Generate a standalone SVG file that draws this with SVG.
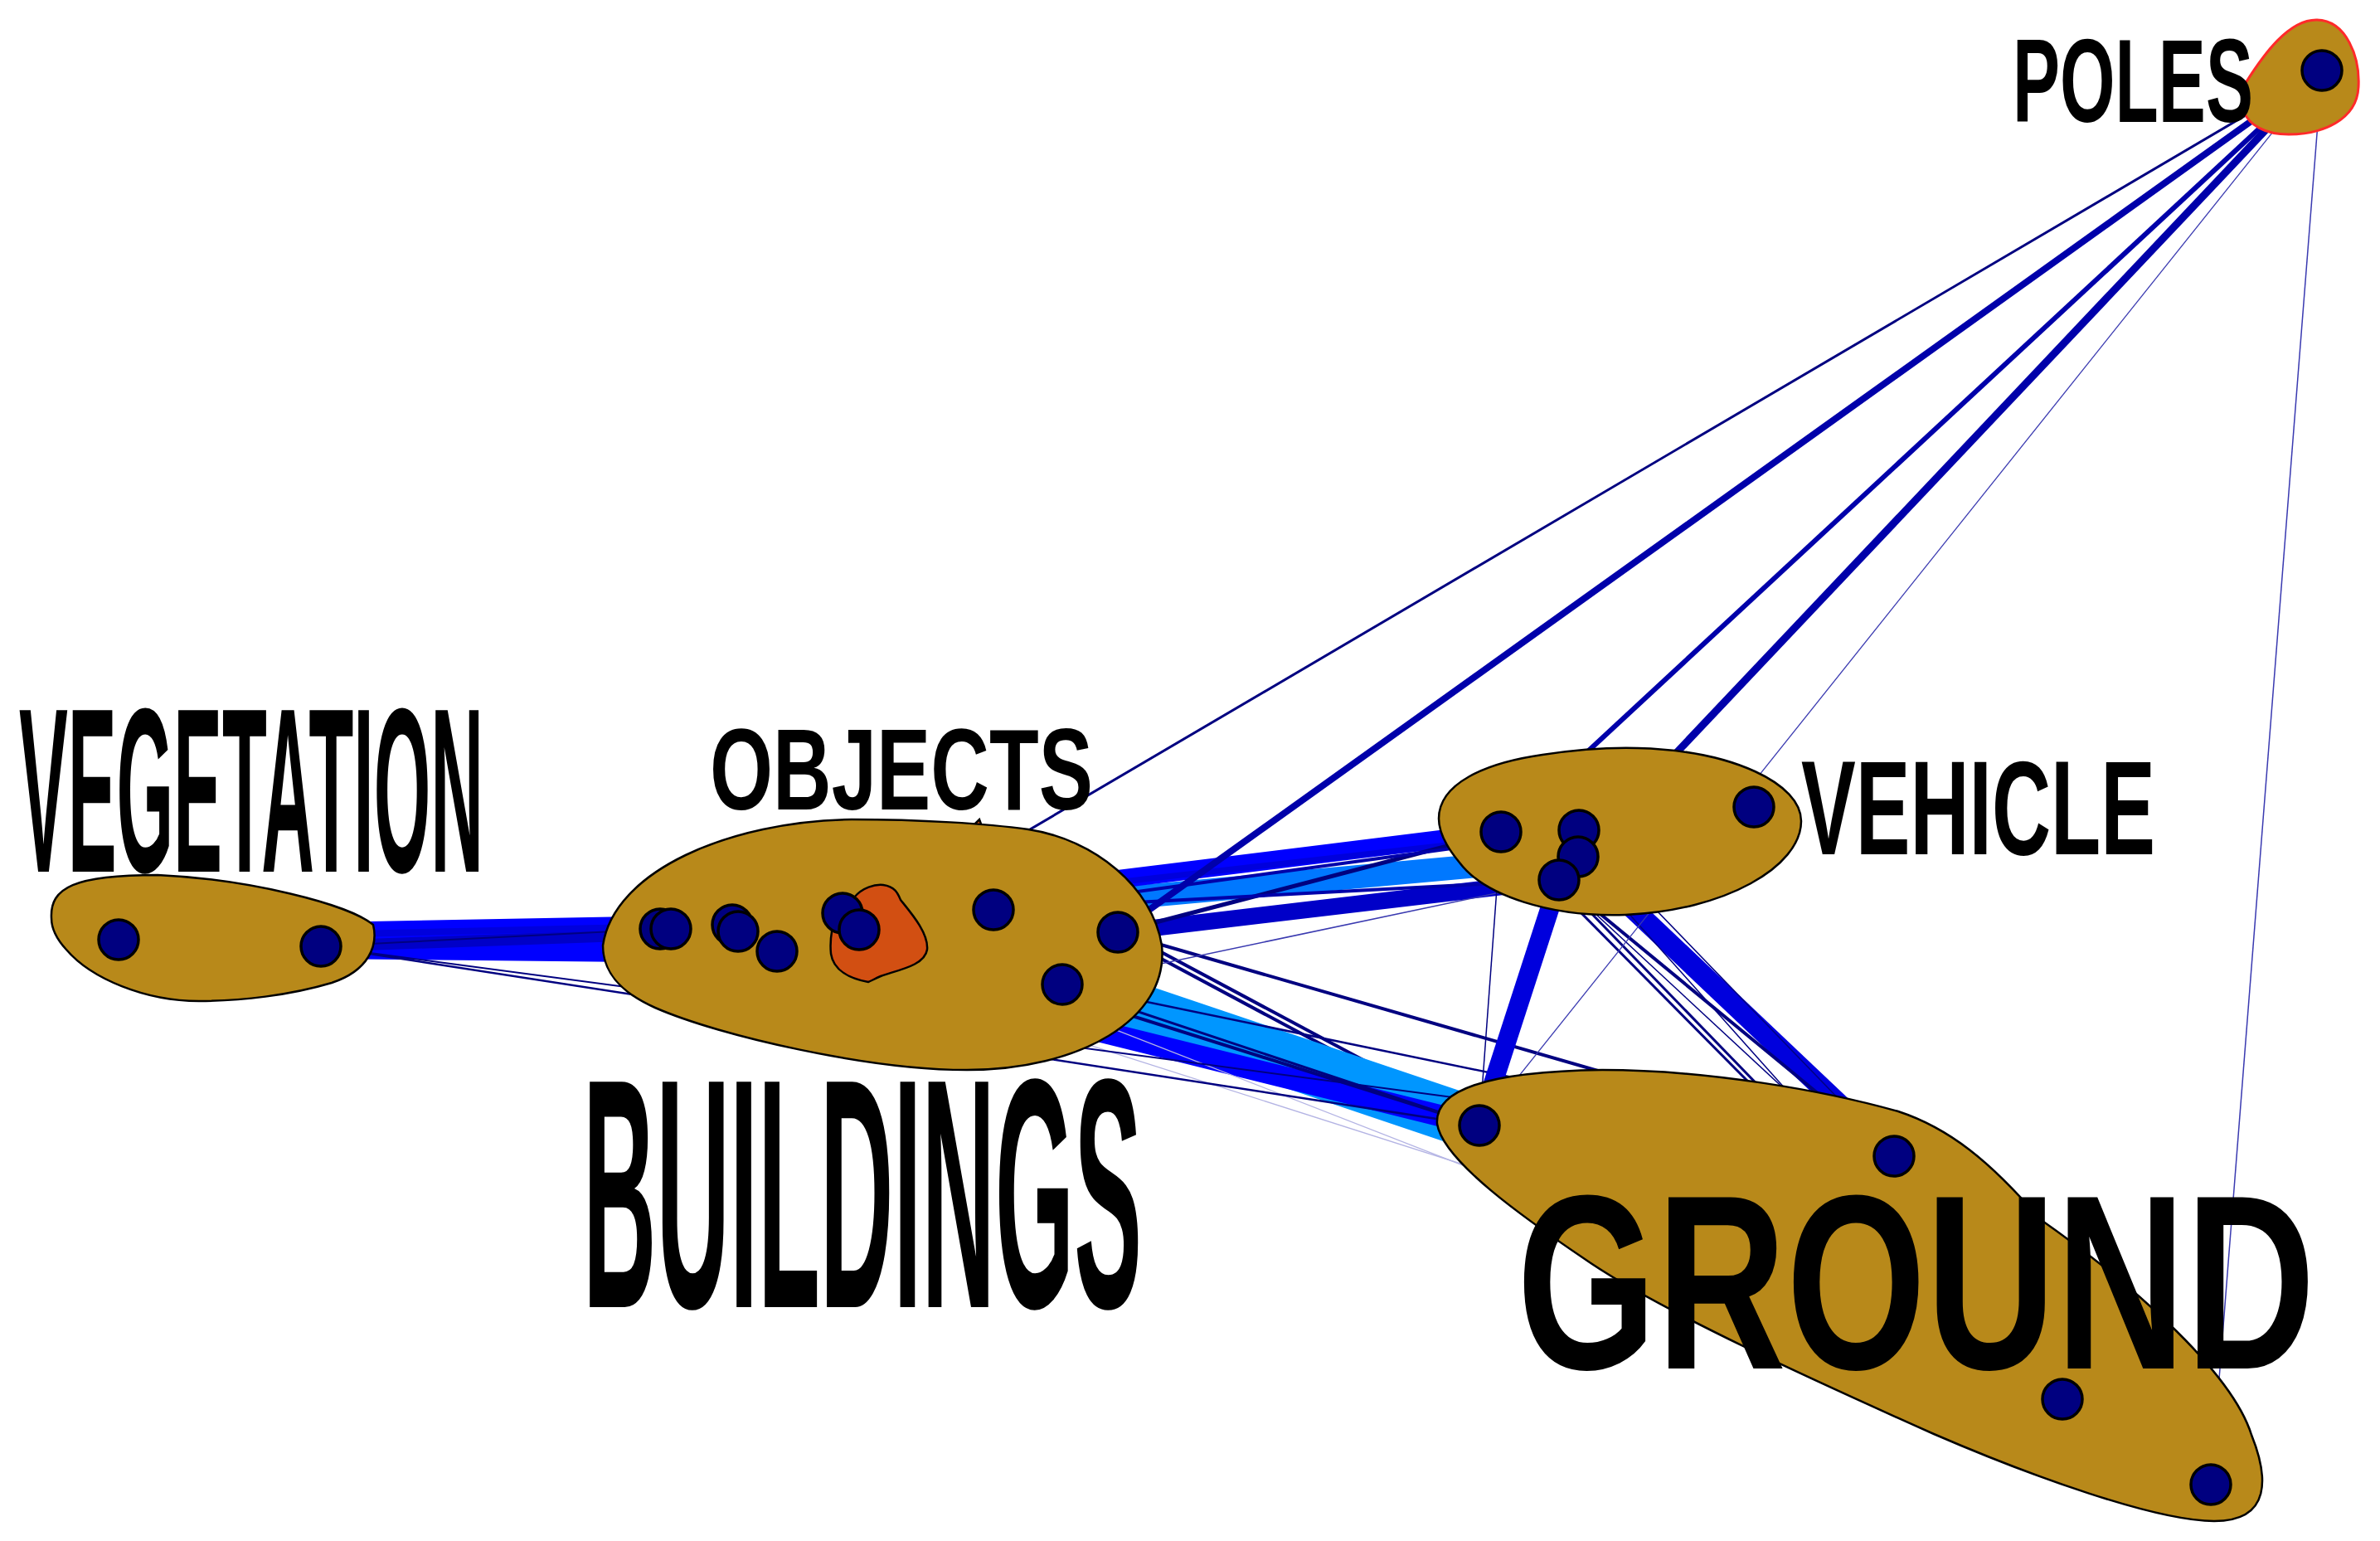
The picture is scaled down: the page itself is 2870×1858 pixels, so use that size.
<svg xmlns="http://www.w3.org/2000/svg" width="2870" height="1858" viewBox="0 0 2870 1858">
<style>
.bg{fill:#ffffff}
.blob{fill:#B8891A;stroke:#000;stroke-width:2.5}
.blobp{fill:#B8891A;stroke:#FF2A2A;stroke-width:3}
.inner{fill:#D24F12;stroke:#000;stroke-width:2.5}
.n{fill:#000080;stroke:#000;stroke-width:3.5}
.lbl{font-family:"Liberation Sans",Arial,Helvetica,sans-serif;font-weight:bold;fill:#000}
line{stroke-linecap:butt;fill:none}
.nv{stroke:#000080}
.db{stroke:#0000AA}
.b{stroke:#0000FF}
.mb{stroke:#0000DD}
.cb{stroke:#0000C8}
.lb{stroke:#0096FF}
.ib{stroke:#0078FF}
.th{stroke:#3A3AB0}
.lav{stroke:#B4B4E4}
</style>
<rect class="bg" x="0" y="0" width="2870" height="1858"/>
<g id="connectors">
  <!-- buildings/objects -> ground (under) -->
  <line class="nv" x1="1348" y1="1120" x2="1784" y2="1353" stroke-width="4"/>
  <line class="nv" x1="1348" y1="1128" x2="1784" y2="1361" stroke-width="4"/>
  <line class="lb" x1="1281" y1="1187" x2="1784" y2="1357" stroke-width="64"/>
  <line class="b" x1="937" y1="1147" x2="1784" y2="1357" stroke-width="26"/>
  <line class="nv" x1="1036" y1="1121" x2="1784" y2="1357" stroke-width="4"/>
  <line class="nv" x1="1016" y1="1101" x2="1784" y2="1357" stroke-width="3"/>
  <line class="nv" x1="1348" y1="1124" x2="2284" y2="1394" stroke-width="4"/>
  <line class="nv" x1="1281" y1="1187" x2="2284" y2="1394" stroke-width="2.5"/>
  <line class="lav" x1="1036" y1="1121" x2="2487" y2="1687" stroke-width="1.3"/>
  <line class="lav" x1="1000" y1="1160" x2="2300" y2="1575" stroke-width="1.3"/>
  <!-- objects -> vehicle -->
  <line class="ib" x1="1198" y1="1097" x2="1903" y2="1033" stroke-width="28"/>
  <line class="b" x1="1016" y1="1101" x2="1810" y2="1003" stroke-width="22"/>
  <line class="cb" x1="1348" y1="1124" x2="1880" y2="1061" stroke-width="20"/>
  <line class="mb" x1="1016" y1="1101" x2="1904" y2="1001" stroke-width="7"/>
  <line class="nv" x1="1348" y1="1124" x2="1810" y2="1003" stroke-width="5"/>
  <line class="db" x1="1198" y1="1097" x2="1880" y2="1061" stroke-width="4"/>
  <line class="db" x1="1036" y1="1121" x2="2115" y2="973" stroke-width="4"/>
  <line class="th" x1="1281" y1="1187" x2="1880" y2="1061" stroke-width="1.5"/>
  <!-- vegetation -> objects -->
  <line class="b" x1="143" y1="1131" x2="809" y2="1118" stroke-width="28"/>
  <line class="b" x1="387" y1="1143" x2="937" y2="1149" stroke-width="26"/>
  <line class="cb" x1="387" y1="1141" x2="890" y2="1123" stroke-width="14"/>
  <line class="mb" x1="143" y1="1133" x2="883" y2="1115" stroke-width="8"/>
  <line class="nv" x1="387" y1="1141" x2="796" y2="1120" stroke-width="2"/>
  <!-- vegetation -> ground -->
  <line class="nv" x1="387" y1="1141" x2="1784" y2="1357" stroke-width="2.5"/>
  <line class="nv" x1="387" y1="1141" x2="2284" y2="1394" stroke-width="2"/>
  <!-- vehicle -> ground -->
  <line class="mb" x1="1880" y1="1061" x2="1784" y2="1357" stroke-width="23"/>
  <line class="mb" x1="1903" y1="1033" x2="2284" y2="1394" stroke-width="25"/>
  <line class="nv" x1="1880" y1="1061" x2="2284" y2="1394" stroke-width="4"/>
  <line class="nv" x1="1810" y1="1003" x2="2487" y2="1687" stroke-width="3"/>
  <line class="nv" x1="1880" y1="1061" x2="2487" y2="1687" stroke-width="3"/>
  <line class="nv" x1="1903" y1="1033" x2="2487" y2="1687" stroke-width="1.5"/>
  <line class="nv" x1="1904" y1="1001" x2="2284" y2="1394" stroke-width="1.5"/>
  <line class="nv" x1="1880" y1="1061" x2="2666" y2="1790" stroke-width="1.5"/>
  <line class="nv" x1="1810" y1="1003" x2="1784" y2="1357" stroke-width="1.5"/>
  <!-- poles -->
  <line class="th" x1="2800" y1="85" x2="1784" y2="1357" stroke-width="1.3"/>
  <line class="th" x1="2800" y1="85" x2="2666" y2="1790" stroke-width="1.5"/>
  <line class="nv" x1="2800" y1="85" x2="1036" y2="1121" stroke-width="3"/>
  <line class="db" x1="2800" y1="85" x2="1348" y2="1124" stroke-width="8"/>
  <line class="db" x1="2800" y1="85" x2="1810" y2="1003" stroke-width="6"/>
  <line class="db" x1="2800" y1="85" x2="1903" y2="1033" stroke-width="9"/>
</g>
<g id="vegetation">
  <path class="blob" d="M62,1107 C60,1070 90,1055 190,1055 C300,1060 420,1090 450,1115 C456,1140 445,1170 400,1185 C350,1200 290,1207 240,1207 C175,1207 110,1180 80,1145 C68,1132 62,1120 62,1107 Z"/>
  <circle class="n" cx="143" cy="1133" r="24"/>
  <circle class="n" cx="387" cy="1141" r="24"/>
  <text class="lbl" x="23" y="1051" font-size="283" textLength="560" lengthAdjust="spacingAndGlyphs">VEGETATION</text>
</g>
<g id="buildings">
  <path class="inner" d="M1172,997 L1181,988 L1185,999 Z"/>
  <path class="blob" d="M727,1140 C740,1050 880,990 1027,988 C1110,988 1190,993 1240,1000 C1320,1012 1390,1070 1401,1140 C1410,1230 1300,1290 1166,1290 C1050,1290 870,1250 790,1215 C745,1195 727,1170 727,1140 Z"/>
  <text class="lbl" x="703" y="1576" font-size="395" textLength="674" lengthAdjust="spacingAndGlyphs">BUILDINGS</text>
  <circle class="n" cx="796" cy="1120" r="24"/>
  <circle class="n" cx="809" cy="1120" r="24"/>
  <circle class="n" cx="883" cy="1115" r="24"/>
  <circle class="n" cx="890" cy="1123" r="24"/>
  <circle class="n" cx="937" cy="1147" r="24"/>
  <circle class="n" cx="1198" cy="1097" r="24"/>
  <circle class="n" cx="1348" cy="1124" r="24"/>
  <circle class="n" cx="1281" cy="1187" r="24"/>
</g>
<g id="objects">
  <path class="inner" d="M1030,1082 C1040,1070 1055,1066 1065,1067 C1080,1069 1083,1078 1086,1085 C1098,1100 1120,1125 1118,1145 C1115,1165 1080,1170 1062,1177 C1055,1180 1050,1183 1047,1184 C1025,1180 1005,1170 1002,1150 C1000,1130 1005,1110 1010,1100 Z"/>
  <circle class="n" cx="1016" cy="1101" r="24"/>
  <circle class="n" cx="1036" cy="1121" r="24"/>
  <text class="lbl" x="856" y="976" font-size="140" textLength="462" lengthAdjust="spacingAndGlyphs">OBJECTS</text>
</g>
<g id="vehicle">
  <path class="blob" d="M1735,987 C1735,945 1790,920 1860,910 C1900,904 1940,901 1975,902 C2090,905 2172,945 2172,990 C2172,1045 2080,1098 1960,1103 C1870,1106 1790,1080 1760,1040 C1745,1022 1735,1005 1735,987 Z"/>
  <circle class="n" cx="1810" cy="1003" r="24"/>
  <circle class="n" cx="1904" cy="1001" r="24"/>
  <circle class="n" cx="1903" cy="1033" r="24"/>
  <circle class="n" cx="1880" cy="1061" r="24"/>
  <circle class="n" cx="2115" cy="973" r="24"/>
  <text class="lbl" x="2172" y="1030" font-size="161" textLength="427" lengthAdjust="spacingAndGlyphs">VEHICLE</text>
</g>
<g id="ground">
  <path class="blob" d="M1733,1355 C1730,1315 1790,1292 1932,1290 C2060,1290 2200,1315 2289,1340 C2350,1360 2400,1400 2460,1470 C2560,1540 2690,1650 2715,1730 C2735,1780 2740,1834 2670,1834 C2600,1834 2450,1780 2332,1729 C2200,1670 2000,1580 1911,1518 C1840,1470 1740,1400 1733,1355 Z"/>
  <circle class="n" cx="1784" cy="1357" r="24"/>
  <circle class="n" cx="2284" cy="1394" r="24"/>
  <circle class="n" cx="2487" cy="1687" r="24"/>
  <circle class="n" cx="2666" cy="1790" r="24"/>
  <text class="lbl" x="1829" y="1650" font-size="300" textLength="963" lengthAdjust="spacingAndGlyphs">GROUND</text>
</g>
<g id="poles">
  <path class="blobp" d="M2708,100 C2730,65 2760,24 2793,24 C2830,24 2846,70 2844,105 C2842,145 2800,162 2760,162 C2730,162 2712,150 2706,135 C2703,122 2704,110 2708,100 Z"/>
  <circle class="n" cx="2800" cy="85" r="24"/>
  <text class="lbl" x="2427" y="147" font-size="142" textLength="290" lengthAdjust="spacingAndGlyphs">POLES</text>
</g>
</svg>
